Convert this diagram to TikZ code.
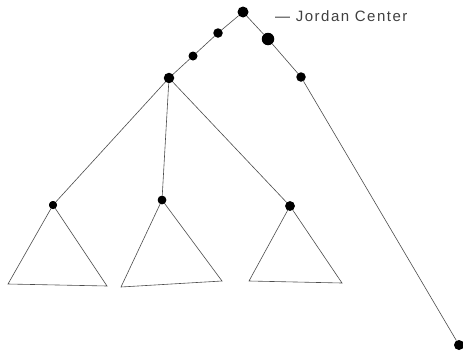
\documentclass[tikz,border=0pt]{standalone}
\usepackage{fontspec}
\newfontfamily\handfont[LetterSpace=10]{Liberation Sans}
\begin{document}
\begin{tikzpicture}[x=1pt,y=-1pt,
  edge/.style={draw=black!70,line width=0.6pt},
  dot/.style={circle,fill=black,inner sep=0pt,minimum size=#1},
  dot/.default=8pt]
\useasboundingbox (0,0) rectangle (463,351);
% nodes
\node[dot=11pt] (J) at (243,12) {};
\node[dot=9.5pt] (a1) at (218,33) {};
\node[dot=9pt] (a2) at (193,56) {};
\node[dot=10.5pt] (B) at (169,78) {};
\node[dot=12.5pt] (C) at (268,39) {};
\node[dot=9.5pt] (D) at (301,77) {};
\node[dot=10pt] (E) at (459,345) {};
\node[dot=8pt] (L1) at (53,205) {};
\node[dot=8.5pt] (L2) at (162,200) {};
\node[dot=9.5pt] (L3) at (290,206) {};
% triangle corners
\coordinate (t1l) at (8,284);
\coordinate (t1r) at (107,286);
\coordinate (t2l) at (121,287);
\coordinate (t2r) at (222,281);
\coordinate (t3l) at (249,281);
\coordinate (t3r) at (342,283);
% edges
\draw[edge] (J) -- (a1) -- (a2) -- (B);
\draw[edge] (J) -- (C) -- (D) -- (E);
\draw[edge] (B) -- (L1);
\draw[edge] (B) -- (L2);
\draw[edge] (B) -- (L3);
\draw[edge] (L1.center) -- (t1l) -- (t1r) -- cycle;
\draw[edge] (L2.center) -- (t2l) -- (t2r) -- cycle;
\draw[edge] (L3.center) -- (t3l) -- (t3r) -- cycle;
% redraw dots on top
\fill (L1) circle (4pt);
\fill (L2) circle (4.25pt);
\fill (L3) circle (4.75pt);
% label
\node[anchor=west,inner sep=0pt,text=black!75,font=\handfont\fontsize{15}{17}\selectfont] (lab) at (275,16) {— Jordan Center};
\end{tikzpicture}
\end{document}
